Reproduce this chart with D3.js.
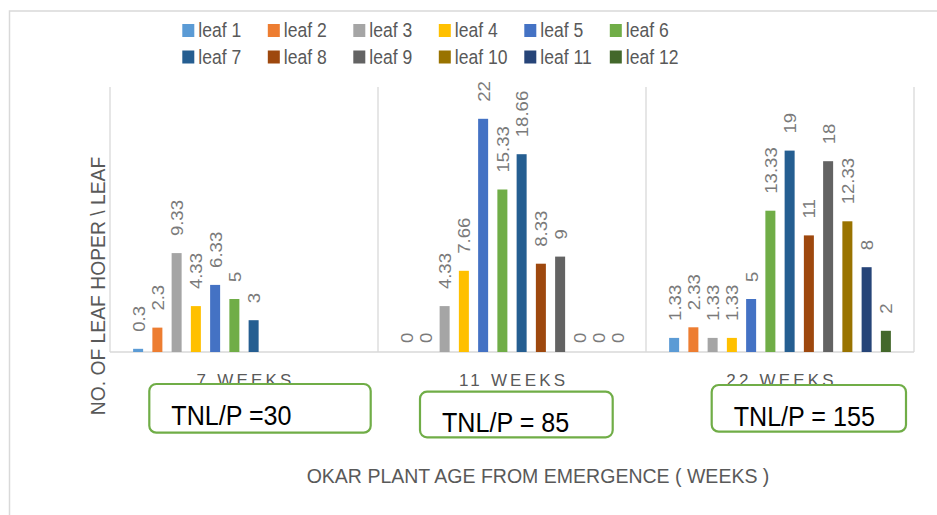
<!DOCTYPE html>
<html>
<meta charset="utf-8">
<head>
	<title>Leaf hopper per leaf</title>
	<style>
	body { margin: 0; background: #fff; }
	svg { display: block; font-family: "Liberation Sans", Arial, sans-serif; }
	</style>
</head>
<body>
<script src="https://d3js.org/d3.v7.min.js"></script>
<script>

// data
var groups = ["7 WEEKS", "11 WEEKS", "22 WEEKS"];
var leaves = ["leaf 1", "leaf 2", "leaf 3", "leaf 4", "leaf 5", "leaf 6",
              "leaf 7", "leaf 8", "leaf 9", "leaf 10", "leaf 11", "leaf 12"];
var week7  = [0.3, 2.3, 9.33, 4.33, 6.33, 5, 3, null, null, null, null, null];
var week11 = [0, 0, 4.33, 7.66, 22, 15.33, 18.66, 8.33, 9, 0, 0, 0];
var week22 = [1.33, 2.33, 1.33, 1.33, 5, 13.33, 19, 11, 18, 12.33, 8, 2];
var totals = ["TNL/P =30", "TNL/P = 85", "TNL/P = 155"];
var yTicks = [0, 25];

var colors = ["#5B9BD5", "#ED7D31", "#A5A5A5", "#FFC000", "#4472C4", "#70AD47",
              "#255E91", "#9E480E", "#636363", "#997300", "#264478", "#43682B"];

// annotation boxes, placed relative to each group centre
var boxLayout = [
  {dx: -94.7, top: 384, w: 221.4, h: 48.7},
  {dx: -92,   top: 391.7, w: 192.7, h: 45.6},
  {dx: -68.3, top: 385, w: 194.3, h: 46.7}
];

var width = 937, height = 515;
var plot = {left: 110, right: 914, top: 87, bottom: 352};

var svg = d3.select("body").append("svg")
    .attr("width", width)
    .attr("height", height);

var series = [week7, week11, week22];
var data = [];
groups.forEach(function(g, gi) {
  leaves.forEach(function(l, li) {
    data.push({group: g, leaf: l, index: li, value: series[gi][li]});
  });
});

var x0 = d3.scaleBand().domain(groups).range([plot.left, plot.right]);
var x1 = d3.scaleBand().domain(leaves)
    .range([18.5, x0.bandwidth() - 18.5])
    .paddingInner(0.48).paddingOuter(0.24);
var y = d3.scaleLinear().domain(d3.extent(yTicks)).range([plot.bottom, plot.top]);

// outer frame
svg.append("path")
    .attr("d", "M9.5,515V11H937")
    .attr("fill", "none")
    .attr("stroke", "#D9D9D9")
    .attr("stroke-width", 1.5);

// category separators
var sep = groups.map(function(g) { return x0(g); }).concat([plot.right]);
svg.selectAll(".sep")
    .data(sep)
    .enter().append("line")
    .attr("x1", function(d) { return d; })
    .attr("x2", function(d) { return d; })
    .attr("y1", y(25))
    .attr("y2", y(0))
    .attr("stroke", "#D9D9D9")
    .attr("stroke-width", 1.3);

svg.append("line")
    .attr("x1", plot.left).attr("x2", plot.right)
    .attr("y1", y(0)).attr("y2", y(0))
    .attr("stroke", "#D9D9D9")
    .attr("stroke-width", 1.3);

// bars
svg.selectAll(".bar")
    .data(data.filter(function(d) { return d.value; }))
    .enter().append("rect")
    .attr("x", function(d) { return x0(d.group) + x1(d.leaf); })
    .attr("width", x1.bandwidth())
    .attr("y", function(d) { return y(d.value); })
    .attr("height", function(d) { return y(0) - y(d.value); })
    .style("fill", function(d) { return colors[d.index]; });

// value labels, rotated
svg.selectAll(".val")
    .data(data.filter(function(d) { return d.value !== null; }))
    .enter().append("text")
    .attr("transform", function(d) {
      var cx = x0(d.group) + x1(d.leaf) + x1.bandwidth() / 2;
      var cy = y(d.value) - (d.value === 0 ? 9 : 17);
      return "translate(" + cx + "," + cy + ") rotate(-90) scale(1.16,1)";
    })
    .attr("dy", "0.4em")
    .style("font-size", "16px")
    .style("fill", "#7A7A7A")
    .text(function(d) { return String(d.value); });

// category labels
svg.selectAll(".cat")
    .data(groups)
    .enter().append("text")
    .attr("x", function(d) { return x0(d) + x0.bandwidth() / 2 + 1.6; })
    .attr("y", 385.5)
    .attr("text-anchor", "middle")
    .style("font-size", "17px")
    .style("letter-spacing", "3.2px")
    .style("fill", "#595959")
    .text(function(d) { return d; });

// TNL/P boxes
var boxes = svg.selectAll(".box")
    .data(groups)
    .enter().append("g")
    .attr("transform", function(d, i) {
      return "translate(" + (x0(d) + x0.bandwidth() / 2 + boxLayout[i].dx) + "," + boxLayout[i].top + ")";
    });

boxes.append("rect")
    .attr("width", function(d, i) { return boxLayout[i].w; })
    .attr("height", function(d, i) { return boxLayout[i].h; })
    .attr("rx", 7)
    .attr("fill", "#fff")
    .attr("stroke", "#70AD47")
    .attr("stroke-width", 2.2);

boxes.append("text")
    .attr("transform", "translate(22,40.5) scale(0.93,1)")
    .style("font-size", "27px")
    .style("fill", "#000")
    .text(function(d, i) { return totals[i]; });

// axis titles
svg.append("text")
    .attr("transform", "translate(105,286) rotate(-90) scale(0.92,1)")
    .attr("text-anchor", "middle")
    .style("font-size", "21px")
    .style("fill", "#595959")
    .text("NO. OF LEAF HOPER \\ LEAF");

svg.append("text")
    .attr("transform", "translate(538,483) scale(0.93,1)")
    .attr("text-anchor", "middle")
    .style("font-size", "21px")
    .style("fill", "#595959")
    .text("OKAR PLANT AGE FROM EMERGENCE ( WEEKS )");

// legend
var legend = svg.selectAll(".legend")
    .data(leaves)
    .enter().append("g")
    .attr("transform", function(d, i) {
      return "translate(" + (182.3 + (i % 6) * 85.5) + "," + (24 + Math.floor(i / 6) * 26.5) + ")";
    });

legend.append("rect")
    .attr("width", 12)
    .attr("height", 13)
    .style("fill", function(d, i) { return colors[i]; });

legend.append("text")
    .attr("transform", "translate(16,13.3) scale(0.9,1)")
    .style("font-size", "19.5px")
    .style("fill", "#595959")
    .text(function(d) { return d; });

</script>
</body>
</html>
